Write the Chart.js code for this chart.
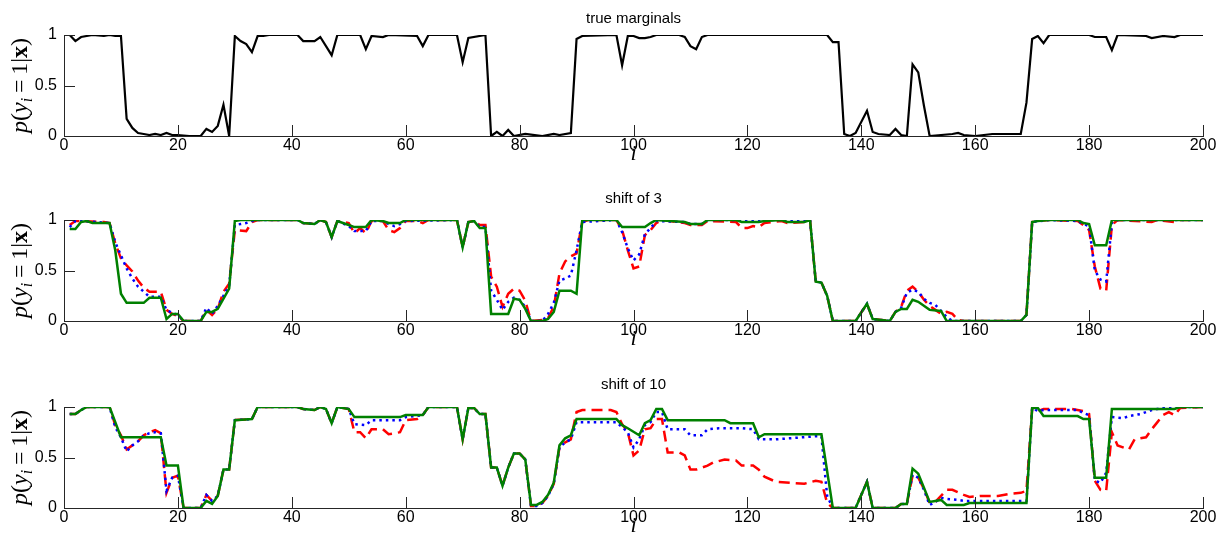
<!DOCTYPE html>
<html>
<head>
<meta charset="utf-8">
<script src="https://cdn.jsdelivr.net/npm/chart.js@4.4.1/dist/chart.umd.min.js"></script>
<style>
  body { margin: 0; background: #fff; width: 1232px; height: 550px; overflow: hidden; }
  canvas { position: absolute; left: 0; }
</style>
</head>
<body>
<canvas id="c0" width="1232" height="185" style="top:0px"></canvas>
<canvas id="c1" width="1232" height="185" style="top:185px"></canvas>
<canvas id="c2" width="1232" height="185" style="top:372px"></canvas>
<script>
// tick labels and titles
const xTicks = [0, 20, 40, 60, 80, 100, 120, 140, 160, 180, 200];
const yTicks = [0, 0.5, 1];
const titles = ['true marginals', 'shift of 3', 'shift of 10'];

// [i, p] pairs
const trueMarg = [[1,1.0],[2,0.94],[3,0.98],[4,0.99],[5,1.0],[7,0.99],[8,1.0],[9,0.99],[10,0.99],[11,0.17],[12,0.08],[13,0.03],[14,0.02],[15,0.01],[16,0.02],[17,0.01],[18,0.03],[19,0.01],[20,0.01],[22,0.0],[24,0.0],[25,0.07],[26,0.04],[27,0.10],[28,0.31],[29,0.0],[30,0.99],[31,0.94],[32,0.91],[33,0.83],[34,0.99],[35,0.99],[36,1.0],[41,1.0],[42,0.94],[44,0.94],[45,0.98],[47,0.80],[48,1.0],[52,1.0],[53,0.86],[54,0.99],[56,0.98],[57,1.0],[62,0.99],[63,0.89],[64,1.0],[69,1.0],[70,0.73],[71,0.97],[74,1.0],[75,0.0],[76,0.04],[77,0.0],[78,0.06],[79,0.0],[81,0.02],[84,0.0],[86,0.02],[87,0.01],[89,0.03],[90,0.96],[91,0.99],[97,1.0],[98,0.70],[99,0.99],[100,0.99],[101,0.97],[102,0.97],[103,0.98],[104,1.0],[108,1.0],[109,0.98],[110,0.89],[111,0.86],[112,0.98],[113,1.0],[134,1.0],[135,0.93],[136,0.93],[137,0.02],[138,0.0],[139,0.03],[141,0.25],[142,0.04],[143,0.02],[145,0.01],[146,0.07],[147,0.01],[148,0.0],[149,0.71],[150,0.63],[151,0.30],[152,0.0],[156,0.02],[157,0.03],[158,0.01],[160,0.0],[163,0.02],[168,0.02],[169,0.33],[170,0.96],[171,0.99],[172,0.92],[173,1.0],[180,1.0],[181,0.98],[183,0.98],[184,0.85],[185,1.0],[190,0.99],[191,0.97],[193,0.99],[195,0.98],[196,1.0],[200,1.0]];

// shift of 3
const s3Red = [[1,0.95],[2,0.99],[3,0.99],[7,0.98],[8,0.97],[9,0.77],[10,0.62],[11,0.55],[12,0.49],[13,0.40],[14,0.33],[15,0.29],[17,0.29],[18,0.11],[19,0.07],[20,0.05],[21,0.0],[24,0.0],[25,0.11],[26,0.06],[27,0.12],[28,0.29],[29,0.37],[30,0.90],[32,0.89],[33,0.98],[34,1.0],[41,1.0],[42,0.97],[44,0.96],[45,1.0],[46,0.98],[47,0.83],[48,0.99],[50,0.97],[51,0.87],[52,0.92],[53,0.87],[54,0.99],[56,0.99],[57,0.90],[58,0.88],[59,0.92],[60,0.99],[62,0.99],[63,0.97],[64,1.0],[69,1.0],[70,0.73],[71,0.98],[72,0.99],[73,0.95],[74,0.95],[75,0.44],[76,0.34],[77,0.14],[78,0.27],[79,0.32],[80,0.30],[81,0.20],[82,0.0],[84,0.01],[85,0.03],[86,0.14],[87,0.47],[88,0.59],[89,0.64],[90,0.67],[91,0.98],[92,1.0],[97,1.0],[98,0.90],[99,0.70],[100,0.52],[101,0.54],[102,0.85],[103,0.90],[104,0.97],[105,1.0],[109,0.97],[110,0.95],[112,0.95],[113,0.99],[118,0.98],[119,0.92],[120,0.92],[121,0.94],[122,0.93],[123,0.97],[126,0.99],[127,0.97],[130,0.98],[131,1.0],[132,0.39],[133,0.38],[134,0.25],[135,0.0],[139,0.0],[141,0.17],[142,0.02],[145,0.0],[146,0.09],[147,0.14],[148,0.30],[149,0.34],[150,0.29],[151,0.21],[152,0.15],[153,0.11],[154,0.07],[155,0.09],[156,0.07],[157,0.01],[158,0.0],[168,0.0],[169,0.06],[170,0.98],[171,0.99],[173,1.0],[178,0.99],[179,0.95],[180,0.90],[181,0.54],[182,0.32],[183,0.30],[184,0.95],[185,1.0],[191,0.98],[192,1.0],[195,0.98],[196,1.0],[200,1.0]];
const s3Blue = [[1,0.93],[2,0.99],[3,0.99],[8,0.97],[9,0.78],[10,0.65],[11,0.52],[12,0.42],[13,0.34],[14,0.29],[15,0.24],[17,0.24],[18,0.11],[19,0.08],[20,0.06],[21,0.0],[24,0.0],[25,0.13],[26,0.07],[27,0.15],[28,0.25],[29,0.35],[30,0.95],[31,0.96],[32,0.97],[33,0.99],[34,1.0],[41,1.0],[42,0.97],[44,0.96],[45,1.0],[46,0.98],[47,0.83],[48,0.99],[50,0.94],[51,0.89],[53,0.89],[54,0.99],[56,0.99],[57,0.96],[58,0.94],[59,0.96],[60,0.99],[69,1.0],[70,0.73],[71,0.98],[72,0.99],[73,0.93],[74,0.93],[75,0.30],[76,0.21],[77,0.11],[78,0.19],[79,0.23],[80,0.21],[81,0.14],[82,0.0],[84,0.0],[85,0.07],[86,0.18],[87,0.40],[88,0.42],[89,0.45],[90,0.70],[91,0.98],[97,1.0],[98,0.88],[99,0.72],[100,0.60],[101,0.66],[102,0.86],[103,0.92],[104,0.99],[109,0.98],[110,0.96],[112,0.96],[113,1.0],[131,1.0],[132,0.39],[133,0.38],[134,0.25],[135,0.0],[139,0.0],[141,0.17],[142,0.02],[145,0.0],[146,0.09],[147,0.13],[148,0.28],[149,0.31],[150,0.29],[151,0.22],[152,0.18],[153,0.16],[154,0.10],[155,0.04],[156,0.0],[168,0.0],[169,0.06],[170,0.98],[173,1.0],[178,0.99],[179,0.96],[180,0.94],[181,0.50],[182,0.41],[183,0.39],[184,0.97],[185,1.0],[200,1.0]];
const s3Green = [[1,0.91],[2,0.91],[3,0.98],[4,0.99],[5,0.97],[8,0.97],[9,0.70],[10,0.27],[11,0.18],[14,0.18],[15,0.23],[17,0.23],[18,0.02],[19,0.07],[20,0.07],[21,0.0],[24,0.0],[25,0.09],[26,0.09],[27,0.12],[29,0.32],[30,0.99],[31,1.0],[41,1.0],[42,0.97],[44,0.96],[45,1.0],[46,0.98],[47,0.83],[48,0.99],[50,0.95],[51,0.93],[53,0.93],[54,1.0],[56,0.99],[57,0.97],[59,0.97],[60,1.0],[69,1.0],[70,0.73],[71,0.98],[72,0.99],[73,0.92],[74,0.92],[75,0.07],[78,0.07],[79,0.22],[80,0.21],[81,0.12],[82,0.0],[84,0.0],[85,0.02],[86,0.09],[87,0.30],[89,0.30],[90,0.27],[91,1.0],[97,1.0],[98,0.93],[102,0.93],[103,0.97],[104,1.0],[109,0.98],[110,0.96],[112,0.96],[113,1.0],[118,1.0],[119,0.98],[122,0.98],[123,0.99],[126,1.0],[127,0.98],[130,0.98],[131,1.0],[132,0.39],[133,0.38],[134,0.25],[135,0.0],[139,0.0],[141,0.17],[142,0.02],[145,0.0],[146,0.09],[147,0.12],[148,0.12],[149,0.21],[150,0.19],[152,0.11],[154,0.10],[155,0.0],[168,0.0],[169,0.06],[170,0.98],[171,0.99],[173,1.0],[178,1.0],[179,0.97],[180,0.96],[181,0.75],[183,0.75],[184,1.0],[200,1.0]];

// shift of 10
const s10Red = [[1,0.93],[2,0.93],[3,0.97],[4,1.0],[8,1.0],[9,0.82],[10,0.72],[11,0.58],[12,0.62],[13,0.66],[14,0.72],[15,0.75],[16,0.77],[17,0.74],[18,0.15],[19,0.30],[20,0.32],[21,0.0],[24,0.0],[25,0.13],[26,0.07],[27,0.12],[28,0.38],[29,0.38],[30,0.87],[33,0.88],[34,1.0],[41,1.0],[42,0.98],[44,0.97],[45,1.0],[46,0.98],[47,0.84],[48,1.0],[50,0.98],[51,0.75],[52,0.75],[53,0.69],[54,0.78],[56,0.78],[57,0.73],[59,0.75],[60,0.87],[62,0.88],[63,0.92],[64,1.0],[69,1.0],[70,0.68],[71,0.99],[72,0.99],[73,0.93],[74,0.93],[75,0.40],[76,0.40],[77,0.22],[78,0.40],[79,0.54],[80,0.54],[81,0.48],[82,0.02],[83,0.02],[84,0.05],[85,0.12],[86,0.24],[87,0.60],[88,0.65],[89,0.68],[90,0.95],[91,0.97],[96,0.97],[97,0.95],[98,0.83],[99,0.75],[100,0.52],[101,0.57],[102,0.78],[103,0.79],[104,0.88],[105,0.88],[106,0.55],[108,0.55],[109,0.52],[110,0.38],[111,0.38],[112,0.40],[113,0.42],[114,0.45],[116,0.48],[118,0.47],[119,0.42],[121,0.42],[122,0.38],[123,0.31],[125,0.26],[130,0.24],[132,0.27],[133,0.26],[134,0.05],[135,0.0],[139,0.0],[141,0.26],[142,0.0],[146,0.0],[147,0.04],[148,0.04],[149,0.32],[150,0.30],[151,0.19],[152,0.05],[153,0.06],[154,0.12],[155,0.18],[156,0.18],[158,0.13],[159,0.11],[161,0.12],[164,0.12],[166,0.14],[168,0.15],[169,0.17],[170,0.98],[171,0.96],[172,0.98],[177,0.98],[179,0.96],[180,0.93],[181,0.27],[182,0.18],[183,0.17],[184,0.75],[185,0.62],[187,0.58],[188,0.68],[190,0.70],[191,0.78],[192,0.85],[193,0.92],[194,0.95],[195,0.92],[196,0.99],[200,1.0]];
const s10Blue = [[1,0.93],[2,0.93],[3,0.97],[4,1.0],[8,1.0],[9,0.80],[10,0.70],[11,0.56],[12,0.62],[13,0.66],[14,0.72],[15,0.74],[16,0.75],[17,0.74],[18,0.17],[19,0.30],[20,0.32],[21,0.0],[24,0.0],[25,0.13],[26,0.07],[27,0.12],[28,0.38],[29,0.38],[30,0.87],[33,0.88],[34,1.0],[41,1.0],[42,0.98],[44,0.97],[45,1.0],[46,0.98],[47,0.84],[48,1.0],[50,0.98],[51,0.83],[53,0.82],[54,0.87],[59,0.87],[60,0.90],[63,0.92],[64,1.0],[69,1.0],[70,0.68],[71,0.99],[72,0.99],[73,0.93],[74,0.93],[75,0.40],[76,0.40],[77,0.22],[78,0.40],[79,0.54],[80,0.54],[81,0.48],[82,0.02],[83,0.02],[84,0.05],[85,0.12],[86,0.24],[87,0.60],[88,0.65],[89,0.68],[90,0.85],[97,0.85],[98,0.80],[99,0.75],[100,0.60],[101,0.68],[102,0.82],[103,0.85],[104,0.95],[105,0.95],[106,0.78],[109,0.78],[110,0.72],[112,0.72],[113,0.78],[115,0.79],[119,0.79],[121,0.78],[122,0.68],[125,0.68],[132,0.71],[133,0.71],[134,0.12],[135,0.0],[139,0.0],[141,0.26],[142,0.0],[146,0.0],[147,0.04],[148,0.04],[149,0.33],[150,0.30],[151,0.18],[152,0.03],[153,0.06],[154,0.10],[155,0.09],[157,0.08],[158,0.07],[169,0.07],[170,0.99],[171,0.96],[172,0.97],[178,0.97],[179,0.94],[180,0.92],[181,0.27],[182,0.25],[183,0.35],[184,0.90],[186,0.89],[187,0.91],[189,0.93],[191,0.97],[193,0.99],[195,1.0],[200,1.0]];
const s10Green = [[1,0.93],[2,0.93],[3,0.97],[4,1.0],[8,1.0],[10,0.70],[17,0.70],[18,0.42],[20,0.42],[21,0.0],[24,0.0],[25,0.07],[26,0.04],[27,0.12],[28,0.38],[29,0.38],[30,0.87],[33,0.88],[34,1.0],[41,1.0],[42,0.98],[44,0.97],[45,1.0],[46,0.98],[47,0.84],[48,1.0],[50,0.98],[51,0.90],[59,0.90],[60,0.92],[63,0.92],[64,1.0],[69,1.0],[70,0.68],[71,0.99],[72,0.99],[73,0.93],[74,0.93],[75,0.40],[76,0.40],[77,0.22],[78,0.40],[79,0.54],[80,0.54],[81,0.48],[82,0.03],[83,0.03],[84,0.06],[85,0.13],[86,0.25],[87,0.62],[88,0.69],[89,0.72],[90,0.88],[97,0.88],[98,0.82],[99,0.79],[101,0.72],[102,0.84],[103,0.87],[104,0.98],[105,0.98],[106,0.87],[116,0.87],[117,0.84],[121,0.84],[122,0.70],[123,0.73],[133,0.73],[135,0.0],[139,0.0],[141,0.26],[142,0.0],[146,0.0],[147,0.04],[148,0.04],[149,0.39],[150,0.34],[151,0.20],[152,0.06],[153,0.07],[154,0.08],[155,0.03],[158,0.03],[159,0.05],[169,0.05],[170,0.99],[171,0.99],[172,0.91],[178,0.91],[179,0.88],[180,0.88],[181,0.30],[183,0.30],[184,0.98],[195,0.98],[196,1.0],[200,1.0]];

Chart.defaults.font.family = '"Liberation Sans", Arial, sans-serif';
Chart.defaults.color = '#000';

function series(pts, color, width, dash, order) {
    return {
        data: pts.map(p => ({ x: p[0], y: p[1] })),
        borderColor: color,
        borderWidth: width,
        borderDash: dash,
        borderCapStyle: 'butt',
        pointRadius: 0,
        tension: 0,
        fill: false,
        order: order
    };
}

// p(y_i = 1|x) drawn in pieces so the subscript and bold x show
function drawYLabel(ctx, cx, cy) {
    const serif = '"Liberation Serif", "DejaVu Serif", serif';
    const parts = [
        ['p', 'italic 24px ' + serif, 0],
        ['(', '24px ' + serif, 0],
        ['y', 'italic 24px ' + serif, 0],
        ['i', 'italic 16px ' + serif, 5],
        ['\u2009=\u20091|', '24px ' + serif, 0],
        ['x', 'bold 24px ' + serif, 0],
        [')', '24px ' + serif, 0]
    ];
    ctx.save();
    ctx.translate(cx, cy);
    ctx.rotate(-Math.PI / 2);
    ctx.fillStyle = '#000';
    ctx.textBaseline = 'alphabetic';
    let total = 0;
    parts.forEach(p => { ctx.font = p[1]; total += ctx.measureText(p[0]).width; });
    let x = -total / 2;
    parts.forEach(p => {
        ctx.font = p[1];
        ctx.fillText(p[0], x, 7 + p[2]);
        x += ctx.measureText(p[0]).width;
    });
    ctx.restore();
}

const panelDecor = {
    id: 'panelDecor',
    afterDraw(chart, args, opts) {
        const { ctx, chartArea: a, scales: { x, y } } = chart;
        ctx.save();
        // inward tick marks
        ctx.strokeStyle = '#262626';
        ctx.lineWidth = 1;
        ctx.beginPath();
        xTicks.forEach(v => {
            const px = Math.round(x.getPixelForValue(v)) + 0.5;
            ctx.moveTo(px, a.bottom);
            ctx.lineTo(px, a.bottom - 11);
        });
        yTicks.forEach(v => {
            const py = Math.round(y.getPixelForValue(v)) + 0.5;
            ctx.moveTo(a.left, py);
            ctx.lineTo(a.left + 11, py);
        });
        ctx.stroke();
        // title and x label
        const mid = (a.left + a.right) / 2;
        ctx.fillStyle = '#000';
        ctx.textAlign = 'center';
        ctx.textBaseline = 'middle';
        ctx.font = '15px "Liberation Sans", Arial, sans-serif';
        ctx.fillText(opts.title, mid, a.top - opts.titleGap);
        ctx.font = 'italic 22px "Liberation Serif", serif';
        ctx.fillText('i', mid, a.bottom + 18);
        ctx.restore();
        drawYLabel(ctx, 20, (a.top + a.bottom) / 2);
    }
};

function makePanel(id, title, titleGap, datasets) {
    return new Chart(document.getElementById(id), {
        type: 'line',
        data: { datasets: datasets },
        plugins: [panelDecor],
        options: {
            responsive: false,
            animation: false,
            devicePixelRatio: 1,
            layout: { padding: { left: 0, right: 29, top: 35, bottom: 0 } },
            plugins: {
                legend: { display: false },
                tooltip: { enabled: false },
                panelDecor: { title: title, titleGap: titleGap }
            },
            scales: {
                x: {
                    type: 'linear',
                    min: 0,
                    max: 200,
                    afterBuildTicks: s => { s.ticks = xTicks.map(v => ({ value: v })); },
                    afterFit: s => { s.height = 49; },
                    grid: { drawOnChartArea: false, drawTicks: false },
                    border: { display: true, color: '#262626', width: 1 },
                    ticks: { padding: 0, font: { size: 16 }, color: '#000', maxRotation: 0 }
                },
                y: {
                    min: 0,
                    max: 1,
                    afterBuildTicks: s => { s.ticks = yTicks.map(v => ({ value: v })); },
                    afterFit: s => { s.width = 64; },
                    grid: { drawOnChartArea: false, drawTicks: false },
                    border: { display: true, color: '#262626', width: 1 },
                    ticks: { padding: 7, font: { size: 16 }, color: '#000', callback: v => String(v) }
                }
            }
        }
    });
}

makePanel('c0', titles[0], 16, [series(trueMarg, '#000000', 2.2, [], 1)]);
makePanel('c1', titles[1], 21, [
    series(s3Green, '#008000', 2.5, [], 1),
    series(s3Blue, '#0000ff', 2.5, [2.5, 4], 2),
    series(s3Red, '#ff0000', 2.5, [11, 6], 3)
]);
makePanel('c2', titles[2], 22, [
    series(s10Green, '#008000', 2.5, [], 1),
    series(s10Blue, '#0000ff', 2.5, [2.5, 4], 2),
    series(s10Red, '#ff0000', 2.5, [11, 6], 3)
]);
</script>
</body>
</html>
